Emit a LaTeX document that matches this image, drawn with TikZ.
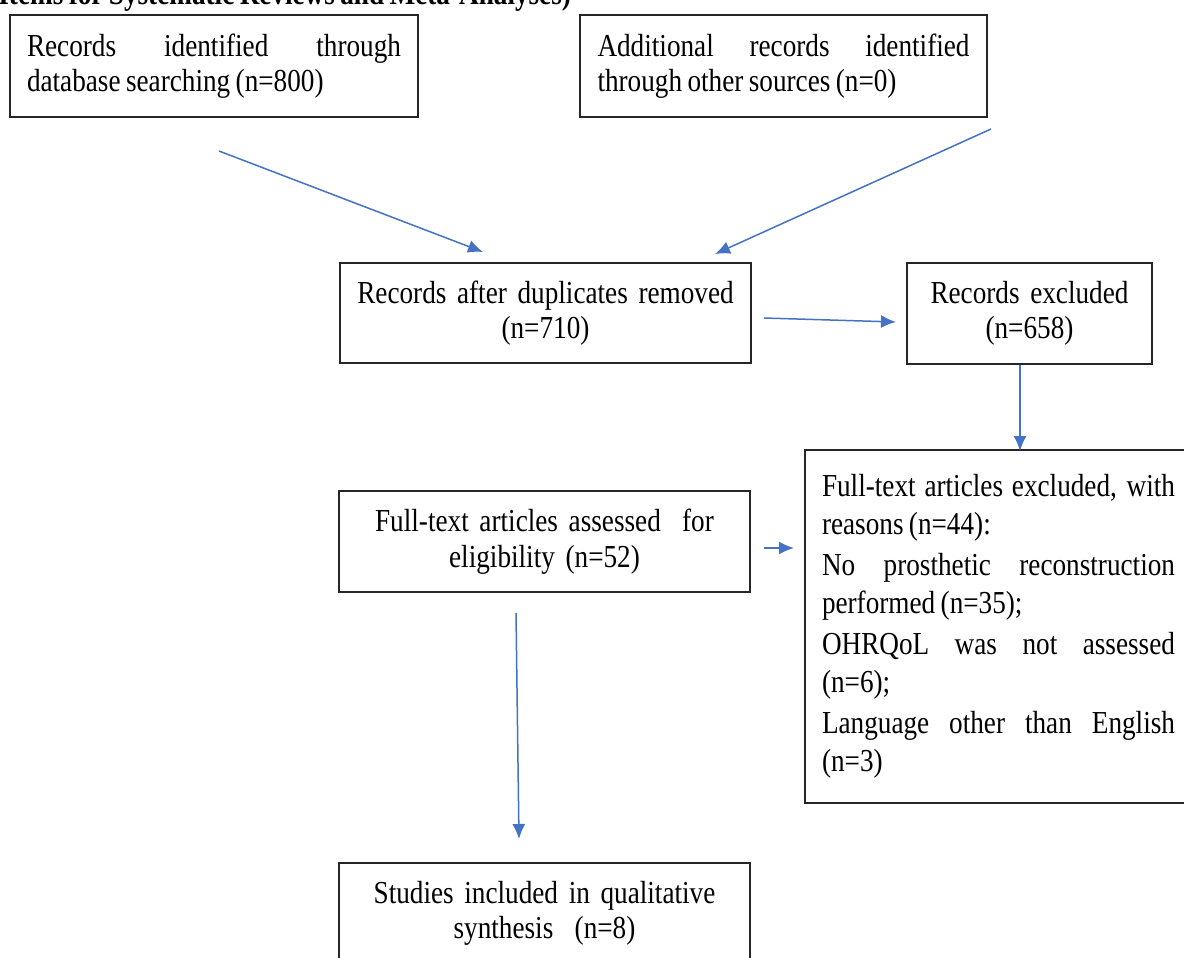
\documentclass[tikz,border=0pt]{standalone}
\usepackage{fontspec}
\setmainfont[FakeStretch=0.85,WordSpace=0.8]{Liberation Serif}
\usetikzlibrary{arrows.meta,calc}
\definecolor{flowblue}{RGB}{68,114,196}
\tikzset{
	box/.style={draw=black!85, line width=1pt, rectangle, inner sep=0pt,
		font=\fontsize{16}{17.75}\selectfont,
		execute at begin node={\hyphenpenalty=10000\exhyphenpenalty=10000\tolerance=10000}},
	flow/.style={draw=flowblue, line width=0.75pt, -{Latex[length=7.5pt,width=6.5pt]}}
}
\begin{document}
\begin{tikzpicture}[x=0.5pt,y=-0.5pt]
				% Page frame
				\useasboundingbox (0,0) rectangle (1184,958);
				
				% Caption line cut at the top
				\node[anchor=base west, inner sep=0pt, font=\fontsize{16}{17.75}\selectfont\bfseries] (heading) at (-2,4) {Items for Systematic Reviews and Meta-Analyses)};
				
				% Identification boxes
				\node[box, align=justify, text width=187pt, minimum width=204pt, minimum height=51pt] (dbsearch) at (214,66) {Records identified through\linebreak database searching (n=800)};
				\node[box, align=justify, text width=186pt, minimum width=203.5pt, minimum height=51pt] (othersrc) at (783.5,66) {Additional records identified\linebreak through other sources (n=0)};
				
				% Screening boxes
				\node[box, align=center, text width=200pt, minimum width=205.5pt, minimum height=50pt] (dup) at (545.5,313) {Records after duplicates removed\\(n=710)};
				\node[box, align=center, text width=118pt, minimum width=122.5pt, minimum height=50.5pt] (excl) at (1029.5,313.5) {Records excluded\\(n=658)};
				
				% Eligibility boxes
				\node[box, align=center, text width=200pt, minimum width=205.5pt, minimum height=50.5pt] (assessed) at (544.5,541.5) {Full-text articles assessed~ for\\eligibility (n=52)};
				\node[box, align=justify, text width=176.5pt, minimum width=193.5pt, minimum height=176.5pt, font=\fontsize{16}{19}\selectfont\setlength{\parskip}{1.5pt}] (fullexcl) at (998.5,626.5) {Full-text articles excluded, with\linebreak reasons (n=44):\par No prosthetic reconstruction\linebreak performed (n=35);\par OHRQoL was not assessed\linebreak (n=6);\par Language other than English\linebreak (n=3)};
				
				% Included box
				\node[box, align=center, text width=200pt, minimum width=205.5pt, minimum height=50.5pt] (studies) at (544.5,913.5) {Studies included in qualitative\\synthesis~ (n=8)};
				
				% Draw the arrows
				\draw[flow] ($(dbsearch.south)+(5,33)$) -- ($(dup.north)+(-62.5,-10)$);
				\draw[flow] ($(othersrc.south)+(207.5,11)$) -- ($(dup.north)+(169.5,-8)$);
				\draw[flow] ($(dup.east)+(12,5)$) -- ($(excl.west)+(-10,8.5)$);
				\draw[flow] ($(excl.south)+(-9.5,0)$) -- ($(fullexcl.north)+(21.5,2)$);
				\draw[flow] ($(assessed.east)+(13,6.5)$) -- ($(fullexcl.west)+(-10,-78.5)$);
				\draw[flow] ($(assessed.south)+(-28.5,20)$) -- ($(studies.north)+(-25.5,-23)$);
			\end{tikzpicture}
\end{document}
